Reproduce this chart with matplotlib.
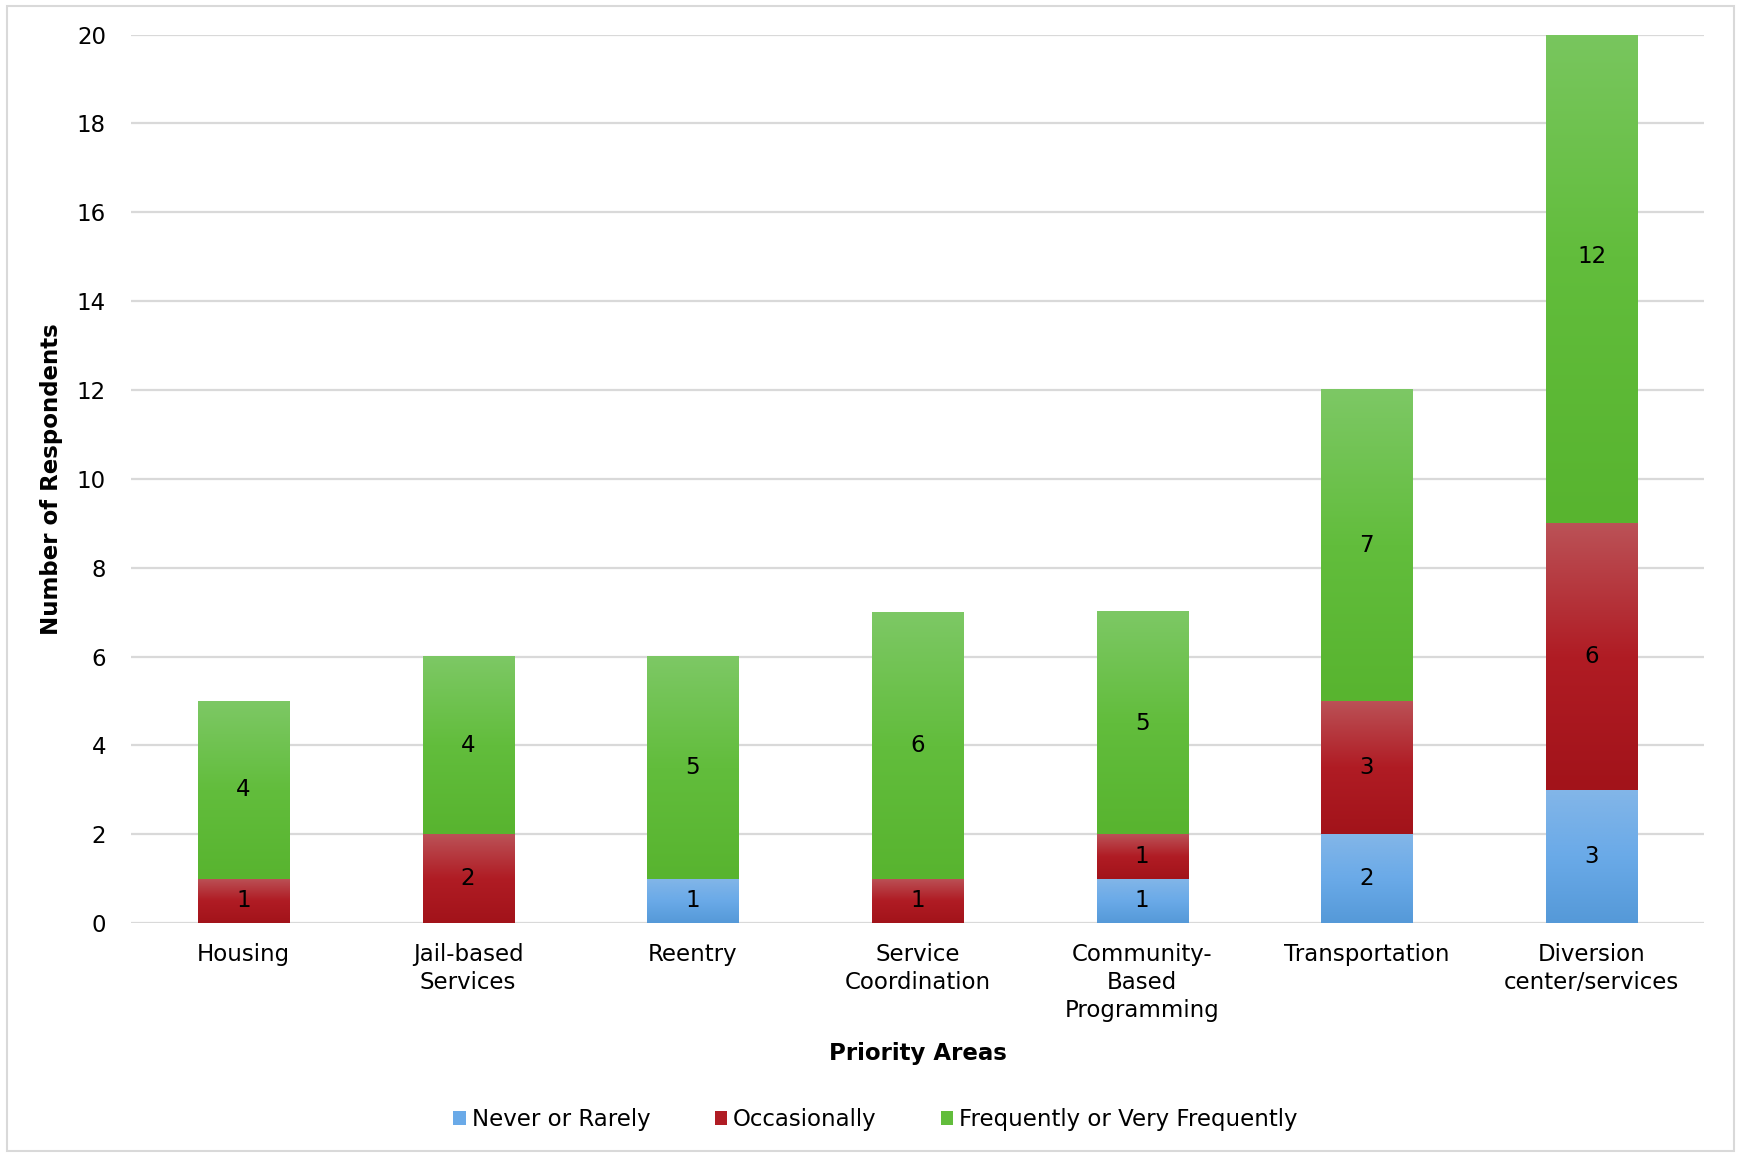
import numpy as np
import matplotlib
matplotlib.use("Agg")
import matplotlib.pyplot as plt
from matplotlib.colors import LinearSegmentedColormap
from matplotlib.patches import Rectangle

categories = ["Housing", "Jail-based\nServices", "Reentry", "Service\nCoordination",
              "Community-\nBased\nProgramming", "Transportation", "Diversion\ncenter/services"]
series = ["Never or Rarely", "Occasionally", "Frequently or Very Frequently"]
never = [0, 0, 1, 0, 1, 2, 3]
occasionally = [1, 2, 0, 1, 1, 3, 6]
frequently = [4, 4, 5, 6, 5, 7, 12]
yticks = [0, 2, 4, 6, 8, 10, 12, 14, 16, 18, 20]

# gradient stops: top, middle, bottom
grads = {
    "Never or Rarely": ["#83b6e8", "#6aaae8", "#5599d8"],
    "Occasionally": ["#bb5257", "#b01c24", "#a2131a"],
    "Frequently or Very Frequently": ["#7dc865", "#62bd3c", "#58b42f"],
}
base = {k: v[1] for k, v in grads.items()}

plt.rcParams["font.family"] = ["DejaVu Sans"]
fs = 16.5
fig = plt.figure(figsize=(17.37, 11.54), dpi=100)
ax = fig.add_axes([0.0754, 0.200, 0.9056, 0.770])

x = np.arange(len(categories))
width = 0.405
bottom = np.zeros(len(categories))
for name, vals in zip(series, [never, occasionally, frequently]):
    vals = np.array(vals, dtype=float)
    bars = ax.bar(x, vals, width, bottom=bottom, color=base[name], label=name, zorder=2)
    cmap = LinearSegmentedColormap.from_list(name, grads[name][::-1])
    grad = np.linspace(0, 1, 256).reshape(-1, 1)
    for b, v in zip(bars, vals):
        if v <= 0:
            continue
        x0, y0 = b.get_x(), b.get_y()
        ax.imshow(grad, cmap=cmap, origin="lower", aspect="auto",
                  extent=[x0, x0 + b.get_width(), y0, y0 + b.get_height()], zorder=3)
        ax.text(b.get_x() + b.get_width() / 2, y0 + v / 2, f"{int(v)}",
                ha="center", va="center", fontsize=fs, color="black", zorder=4)
    bottom += vals

ax.set_xlim(-0.5, len(categories) - 0.5)
ax.set_ylim(0, 20)
ax.set_yticks(yticks)
ax.set_xticks(x)
ax.set_xticklabels(categories, fontsize=fs, linespacing=1.3)
ax.tick_params(axis="y", labelsize=fs, length=0, pad=18)
ax.tick_params(axis="x", length=0, pad=14)
ax.grid(axis="y", color="#d9d9d9", linewidth=1.6, zorder=0)
ax.set_axisbelow(True)
for s in ax.spines.values():
    s.set_visible(False)

ax.set_ylabel("Number of Respondents", fontsize=fs, fontweight="bold", labelpad=10)
ax.set_xlabel("Priority Areas", fontsize=fs, fontweight="bold", labelpad=14)

fig.legend(loc="center", bbox_to_anchor=(0.504, 0.0295), ncol=3, frameon=False,
           fontsize=fs, handlelength=0.55, handleheight=0.55, handletextpad=0.25,
           columnspacing=2.8)

fig.patches.append(Rectangle((0.004, 0.003), 0.994, 0.992, transform=fig.transFigure,
                             fill=False, edgecolor="#d9d9d9", linewidth=1.5))

fig.savefig("out.png", dpi=100)
